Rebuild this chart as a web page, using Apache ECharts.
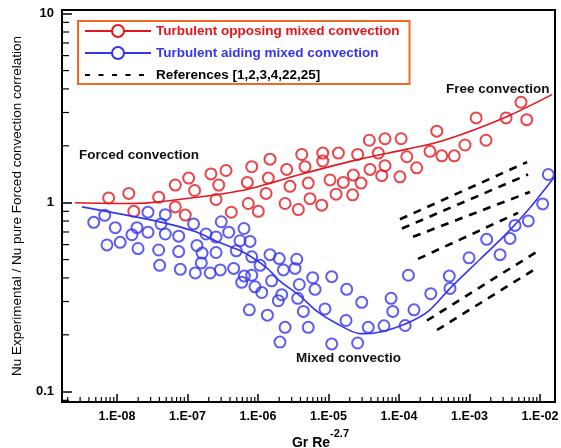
<!DOCTYPE html>
<html><head><meta charset="utf-8">
<script src="https://cdn.jsdelivr.net/npm/echarts@6/dist/echarts.min.js"></script>
<style>html,body{margin:0;padding:0;background:#fff}#c{width:561px;height:448px}</style>
</head><body><div id="c"></div>
<script>
// ---- data ----
const opposingX = [7.62e-9,1.47e-8,3.90e-8,6.71e-8,1.04e-7,1.26e-7,2.15e-7,3.52e-7,2.77e-7,2.54e-7,
  6.71e-8,1.73e-8,9.31e-8,4.18e-7,8.15e-7,1.48e-6,4.17e-6,4.64e-6,2.55e-6,1.40e-6,
  7.05e-7,1.30e-6,2.84e-6,5.16e-6,5.47e-6,2.42e-6,7.28e-7,1.01e-6,3.73e-6,8.01e-6,
  8.28e-6,8.28e-6,1.38e-5,2.59e-5,1.05e-5,1.62e-5,2.25e-5,2.89e-5,1.28e-5,2.20e-5,
  3.88e-5,3.79e-5,6.32e-5,1.07e-4,5.08e-5,6.32e-5,5.69e-5,1.03e-4,1.29e-4,1.78e-4,
  3.43e-4,2.75e-4,4.04e-4,6.08e-4,8.63e-4,1.24e-3,1.71e-3,3.30e-3,5.37e-3,6.47e-3];
const opposingY = [1.06,1.12,1.07,1.24,1.35,1.16,1.42,1.48,1.24,1.04,
  0.95,0.90,0.86,0.89,1.55,1.70,1.80,1.55,1.50,1.35,
  1.28,1.12,1.22,1.27,1.05,0.99,0.99,0.90,0.92,0.97,
  1.83,1.66,1.83,1.80,1.32,1.28,1.40,1.27,1.11,1.10,
  1.50,2.14,2.18,2.18,1.83,1.57,1.39,1.37,1.75,1.53,
  2.39,1.87,1.77,1.77,2.02,2.81,2.14,2.81,3.40,2.75];

const aidingX = [6.70e-9,4.68e-9,9.46e-9,1.92e-8,2.75e-8,1.63e-8,2.75e-8,7.21e-9,1.11e-8,1.99e-8,
  3.90e-8,7.50e-8,4.03e-8,4.21e-8,4.84e-8,4.84e-8,7.50e-8,1.22e-7,1.36e-7,1.61e-7,
  1.57e-7,2.54e-7,1.83e-7,2.54e-7,3.01e-7,3.84e-7,4.92e-7,7.91e-8,1.29e-7,2.10e-7,
  2.92e-7,4.52e-7,6.32e-7,5.56e-7,7.71e-7,8.15e-7,1.07e-6,1.48e-6,2.00e-6,3.54e-6,
  2.29e-6,3.35e-6,1.56e-6,6.40e-7,8.15e-7,5.87e-7,9.06e-7,1.13e-6,2.17e-6,1.94e-6,
  3.66e-6,7.53e-7,1.36e-6,2.42e-6,2.05e-6,4.40e-6,5.16e-6,6.44e-6,5.97e-6,1.11e-5,
  8.91e-6,1.77e-5,1.81e-5,2.96e-5,1.11e-5,2.59e-5,3.66e-5,6.12e-5,1.22e-4,7.71e-5,
  8.15e-5,1.63e-4,1.36e-4,2.82e-4,5.16e-4,5.28e-4,9.84e-4,1.75e-3,2.71e-3,3.75e-3,
  4.42e-3,6.82e-3,1.09e-2,1.31e-2,3.85e-6];
const aidingY = [0.857,0.787,0.738,0.738,0.891,0.677,0.698,0.598,0.617,0.572,
  0.562,0.551,0.466,0.772,0.864,0.683,0.665,0.772,0.594,0.541,
  0.480,0.545,0.683,0.658,0.793,0.698,0.556,0.444,0.425,0.425,
  0.441,0.449,0.730,0.629,0.624,0.517,0.466,0.531,0.506,0.502,
  0.441,0.449,0.386,0.409,0.413,0.379,0.359,0.335,0.326,0.303,
  0.312,0.271,0.254,0.219,0.183,0.266,0.219,0.348,0.401,0.406,
  0.274,0.238,0.348,0.297,0.179,0.181,0.219,0.223,0.224,0.312,
  0.266,0.271,0.413,0.330,0.409,0.352,0.511,0.640,0.531,0.647,
  0.758,0.801,0.985,1.41,0.369];

const opposingFitX = [2.54e-9,1.63e-8,3.94e-8,5.93e-7,3.94e-6,2.80e-5,1.30e-4,3.82e-4,1.20e-3,3.75e-3,1.48e-2];
const opposingFitY = [1.00,0.99,1.01,1.16,1.41,1.70,1.92,2.11,2.44,2.90,3.73];

const aidingFitX = [3.19e-9,4.35e-8,1.28e-7,2.80e-7,6.12e-7,1.34e-6,2.05e-6,3.94e-6,6.87e-6,1.32e-5,
  2.80e-5,4.28e-5,8.22e-5,1.58e-4,2.75e-4,5.28e-4,1.41e-3,3.40e-3,6.76e-3,1.58e-2];
const aidingFitY = [0.95,0.787,0.703,0.617,0.548,0.451,0.385,0.321,0.266,0.229,
  0.203,0.204,0.216,0.238,0.271,0.352,0.502,0.690,0.914,1.36];

const refStartX = [1.03e-4,1.10e-4,1.58e-4,1.86e-4,2.49e-4,3.46e-4];
const refStartY = [0.817,0.730,0.660,0.504,0.238,0.212];
const refEndX   = [6.55e-3,6.76e-3,7.21e-3,4.88e-3,1.0e-2,9.38e-3];
const refEndY   = [1.64,1.41,1.14,0.884,0.564,0.456];

const seriesNames = ['Turbulent opposing mixed convection','Turbulent aiding mixed convection','References [1,2,3,4,22,25]'];
const xTitle = 'Gr Re';
const xTitleSup = '-2.7';
const yTitle = 'Nu Experimental / Nu pure Forced convection correlation';
const annotations = ['Forced convection','Free convection','Mixed convectio'];

// ---- chart ----
const FONT = '"Liberation Sans", Arial, Helvetica, sans-serif';
const RED = '#e3161d', BLUE = '#3535f0', ORANGE = '#f26a21';
const X_MIN = 1.66e-9, X_MAX = 1.63e-2, Y_MIN = 0.0882, Y_MAX = 10.46;

const zip = (a, b) => a.map((v, i) => [v, b[i]]);
const dec = v => Math.round(Math.log10(v));
const isDecade = v => Math.abs(Math.log10(v) - dec(v)) < 1e-6;
function minorTicks(min, max) {
  const out = [];
  for (let e = Math.floor(Math.log10(min)); e <= Math.ceil(Math.log10(max)); e++)
    for (let m = 2; m <= 9; m++) { const v = m * Math.pow(10, e); if (v > min && v < max) out.push(v); }
  return out;
}

const chart = echarts.init(document.getElementById('c'));

const scatterStyle = c => ({ color: 'rgba(0,0,0,0)', borderColor: c, borderWidth: 2 });

const series = [
  { type: 'scatter', name: 'opp-points', data: zip(opposingX, opposingY), symbol: 'circle', symbolSize: 11,
    itemStyle: scatterStyle(RED), silent: true, z: 3 },
  { type: 'scatter', name: 'aid-points', data: zip(aidingX, aidingY), symbol: 'circle', symbolSize: 11,
    itemStyle: scatterStyle(BLUE), silent: true, z: 3 },
  { type: 'line', name: seriesNames[0], data: zip(opposingFitX, opposingFitY), smooth: 0.3,
    showSymbol: false, symbol: 'emptyCircle', symbolSize: 10, color: RED,
    lineStyle: { color: RED, width: 1.6 }, z: 4 },
  { type: 'line', name: seriesNames[1], data: zip(aidingFitX, aidingFitY), smooth: 0.3,
    showSymbol: false, symbol: 'emptyCircle', symbolSize: 10, color: BLUE,
    lineStyle: { color: BLUE, width: 1.6 }, z: 4 }
];
refStartX.forEach((x0, i) => {
  series.push({ type: 'line', name: seriesNames[2],
    data: [[x0, refStartY[i]], [refEndX[i], refEndY[i]]],
    showSymbol: false, symbol: 'none', itemStyle: { color: 'rgba(0,0,0,0)' },
    lineStyle: { color: '#000', width: 2.6, type: [8, 7] }, z: 4 });
});
// minor log ticks drawn through the axes' own scales
series.push({ type: 'custom', name: 'xminor', silent: true, clip: false, z: 6,
  data: minorTicks(X_MIN, X_MAX).map(v => [v, Y_MIN]),
  renderItem: (p, api) => { const c = api.coord([api.value(0), api.value(1)]);
    return { type: 'line', shape: { x1: c[0], y1: c[1], x2: c[0], y2: c[1] - 5 }, style: { stroke: '#000', lineWidth: 1.2 } }; } });
series.push({ type: 'custom', name: 'yminor', silent: true, clip: false, z: 6,
  data: minorTicks(Y_MIN, Y_MAX).map(v => [X_MIN, v]),
  renderItem: (p, api) => { const c = api.coord([api.value(0), api.value(1)]);
    return { type: 'line', shape: { x1: c[0], y1: c[1], x2: c[0] + 7, y2: c[1] }, style: { stroke: '#000', lineWidth: 1.2 } }; } });

chart.setOption({
  animation: false,
  backgroundColor: '#fff',
  textStyle: { fontFamily: FONT },
  grid: { left: 62, right: 6, top: 10, bottom: 46, show: true, borderColor: '#000', borderWidth: 2,
    backgroundColor: 'transparent', containLabel: false, outerBoundsMode: 'none' },
  legend: {
    orient: 'vertical', left: 78, top: 21, padding: [3, 10, 2, 6], itemGap: 8,
    itemWidth: 66, itemHeight: 15, borderColor: ORANGE, borderWidth: 2, backgroundColor: '#fff',
    textStyle: { fontFamily: FONT, fontWeight: 'bold', fontSize: 13.5 },
    selectedMode: false,
    data: [
      { name: seriesNames[0], textStyle: { color: RED } },
      { name: seriesNames[1], textStyle: { color: BLUE } },
      { name: seriesNames[2], textStyle: { color: '#000' }, itemStyle: { opacity: 0 }, lineStyle: { type: [5, 8.5], width: 2 } }
    ]
  },
  xAxis: {
    type: 'log', logBase: 10, min: X_MIN, max: X_MAX,
    axisLine: { lineStyle: { color: '#000', width: 2 } },
    axisTick: { inside: true, length: 8, lineStyle: { color: '#000', width: 1.5 } },
    splitLine: { show: false },
    axisLabel: { color: '#000', fontWeight: 'bold', fontSize: 12.5, fontFamily: FONT, margin: 8,
      formatter: v => isDecade(v) ? '1.E-' + String(Math.abs(dec(v))).padStart(2, '0') : '' },
    name: '{a|' + xTitle + '}{b|' + xTitleSup + '}', nameLocation: 'middle', nameGap: 26,
    nameTextStyle: { padding: [0, 0, 0, 24],
      rich: { a: { fontSize: 14, fontWeight: 'bold', fontFamily: FONT, color: '#000', verticalAlign: 'bottom', lineHeight: 22 },
              b: { fontSize: 11, fontWeight: 'bold', fontFamily: FONT, color: '#000', verticalAlign: 'top', lineHeight: 22 } } }
  },
  yAxis: {
    type: 'log', logBase: 10, min: Y_MIN, max: Y_MAX,
    axisLine: { lineStyle: { color: '#000', width: 2 } },
    axisTick: { inside: true, length: 10, lineStyle: { color: '#000', width: 1.5 } },
    splitLine: { show: false },
    axisLabel: { color: '#000', fontWeight: 'bold', fontSize: 13, fontFamily: FONT, margin: 8,
      formatter: v => { if (!isDecade(v)) return ''; const e = dec(v); return e >= 0 ? String(Math.pow(10, e)) : '0.' + '0'.repeat(-e - 1) + '1'; } },
    name: yTitle, nameLocation: 'middle', nameRotate: 90, nameGap: 38,
    nameTextStyle: { color: '#000', fontSize: 13.5, fontFamily: FONT }
  },
  graphic: [
    { type: 'text', left: 79, top: 148, style: { text: annotations[0], font: 'bold 13.5px ' + FONT, fill: '#111' } },
    { type: 'text', left: 446, top: 82, style: { text: annotations[1], font: 'bold 13.5px ' + FONT, fill: '#111' } },
    { type: 'text', left: 296, top: 351, style: { text: annotations[2], font: 'bold 13.5px ' + FONT, fill: '#111' } }
  ],
  series: series
});
</script>
</body></html>
